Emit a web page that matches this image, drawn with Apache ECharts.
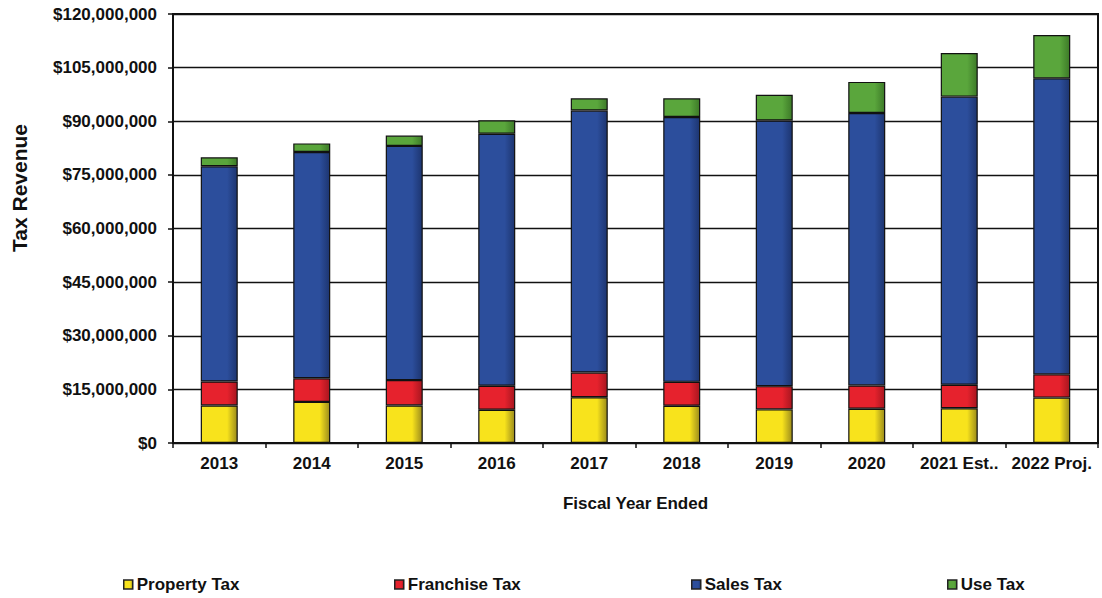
<!DOCTYPE html>
<html>
<head>
<meta charset="utf-8">
<script src="https://cdn.jsdelivr.net/npm/echarts@6/dist/echarts.min.js"></script>
<style>
  html, body { margin: 0; padding: 0; background: #ffffff; }
  #chart { width: 1102px; height: 598px; }
</style>
</head>
<body>
<div id="chart"></div>
<script>
// Fiscal years shown on the category axis
const years = ['2013', '2014', '2015', '2016', '2017', '2018', '2019', '2020', '2021 Est..', '2022 Proj.'];

// Revenue by tax type, in dollars
const propertyTax  = [10500000, 11500000, 10500000,  9300000, 12800000, 10400000,  9400000,  9600000,  9700000, 12700000];
const franchiseTax = [ 6700000,  6600000,  7100000,  6700000,  6900000,  6700000,  6500000,  6500000,  6600000,  6500000];
const salesTax     = [60200000, 63300000, 65500000, 70500000, 73300000, 74100000, 74300000, 76200000, 80600000, 82800000];
const useTax       = [ 2500000,  2400000,  2900000,  3800000,  3400000,  5200000,  7200000,  8700000, 12200000, 12100000];

const seriesNames = ['Property Tax', 'Franchise Tax', 'Sales Tax', 'Use Tax'];
const seriesData = [propertyTax, franchiseTax, salesTax, useTax];
const baseColors = ['#f8e31c', '#e6222d', '#2c4e9c', '#5aa63c'];
const edgeColors = ['#9c8c1c', '#a8161f', '#1d3570', '#3d7a28'];

const FONT = '"Liberation Sans", Arial, sans-serif';

function money(v) {
  return '$' + String(Math.round(v)).replace(/\B(?=(\d{3})+(?!\d))/g, ',');
}

function shaded(i) {
  return new echarts.graphic.LinearGradient(0, 0, 1, 0, [
    { offset: 0, color: baseColors[i] },
    { offset: 0.72, color: baseColors[i] },
    { offset: 1, color: edgeColors[i] }
  ]);
}

const chart = echarts.init(document.getElementById('chart'), null, { renderer: 'svg' });

const legendLefts = [118, 389, 686, 942];

chart.setOption({
  animation: false,
  backgroundColor: '#ffffff',
  grid: {
    left: 173, right: 4, top: 14, bottom: 155,
    show: true, borderColor: '#111', borderWidth: 2, backgroundColor: 'transparent'
  },
  legend: seriesNames.map((name, i) => ({
    data: [name],
    left: legendLefts[i],
    top: 571,
    icon: 'rect',
    itemWidth: 9,
    itemHeight: 9,
    itemGap: 4,
    itemStyle: { borderColor: '#222', borderWidth: 1.5 },
    textStyle: { fontFamily: FONT, fontWeight: 'bold', fontSize: 17, color: '#111', padding: [0, 0, 0, -1] }
  })),
  xAxis: {
    type: 'category',
    data: years,
    name: 'Fiscal Year Ended',
    nameLocation: 'middle',
    nameGap: 52,
    nameTextStyle: { fontFamily: FONT, fontWeight: 'bold', fontSize: 17, color: '#111' },
    axisLine: { lineStyle: { color: '#111', width: 2 } },
    axisTick: { show: true, length: 5, lineStyle: { color: '#111', width: 1.5 } },
    axisLabel: { interval: 0, fontFamily: FONT, fontWeight: 'bold', fontSize: 17, color: '#111', margin: 12 }
  },
  yAxis: {
    type: 'value',
    min: 0,
    max: 120000000,
    interval: 15000000,
    axisLine: { show: true, lineStyle: { color: '#111', width: 2 } },
    axisTick: { show: true, length: 5, lineStyle: { color: '#111', width: 1.5 } },
    splitLine: { show: true, lineStyle: { color: '#111', width: 1.3 } },
    axisLabel: {
      fontFamily: FONT, fontWeight: 'bold', fontSize: 17, color: '#111', margin: 16,
      formatter: money
    }
  },
  graphic: [{
    type: 'text',
    x: 19,
    y: 188,
    rotation: Math.PI / 2,
    style: {
      text: 'Tax Revenue',
      font: 'bold 21px ' + FONT,
      fill: '#111',
      textAlign: 'center',
      textVerticalAlign: 'middle'
    }
  }],
  series: seriesNames.map((name, i) => ({
    name: name,
    type: 'bar',
    stack: 'tax',
    barWidth: 37,
    data: seriesData[i],
    itemStyle: { color: shaded(i), borderColor: '#111', borderWidth: 1.2 }
  }))
});
</script>
</body>
</html>
